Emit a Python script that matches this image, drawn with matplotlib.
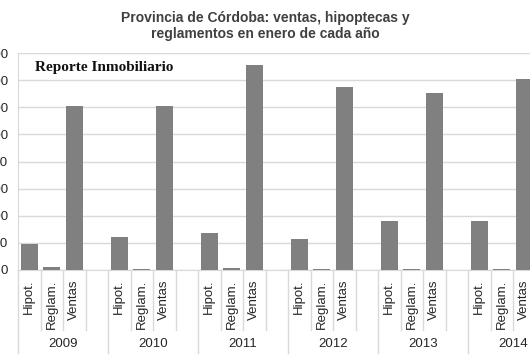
import matplotlib
matplotlib.use("Agg")
import matplotlib.pyplot as plt
import matplotlib.transforms as mtransforms

plt.rcParams["font.family"] = ["Liberation Sans", "DejaVu Sans"]

years = ["2009", "2010", "2011", "2012", "2013", "2014"]
categories = ["Hipot.", "Reglam.", "Ventas"]
hipot = [96, 123, 136, 115, 181, 181]
reglam = [12, 4, 9, 3, 3, 3]
ventas = [603, 603, 756, 675, 654, 704]
y_ticks = [0, 100, 200, 300, 400, 500, 600, 700, 800]

W, H = 530, 360
fig = plt.figure(figsize=(W / 100, H / 100), dpi=100)
# axes runs past the right edge, as in the cropped original
ax = fig.add_axes([18 / W, 90 / H, 540 / W, 217 / H])

slots = 4
xs, vals, labels = [], [], []
for g in range(len(years)):
    for c, series in enumerate([hipot, reglam, ventas]):
        xs.append(g * slots + c)
        vals.append(series[g])
        labels.append(categories[c])

ax.bar(xs, vals, width=0.76, color="#808080", zorder=3)

ax.set_xlim(-0.5, len(years) * slots - 0.5)
ax.set_ylim(0, 800)
ax.set_yticks(y_ticks)
ax.set_yticklabels([str(v) for v in y_ticks], fontsize=9.5, color="#262626")
ax.tick_params(axis="y", length=0, pad=7)
ax.yaxis.grid(True, color="#d9d9d9", linewidth=1)
ax.set_axisbelow(True)

ax.set_xticks(xs)
ax.set_xticklabels(labels, rotation=90, fontsize=9.5, color="#262626", va="top")
ax.tick_params(axis="x", length=0, pad=7)

for s in ["top", "right"]:
    ax.spines[s].set_visible(False)
for s in ["left", "bottom"]:
    ax.spines[s].set_color("#d9d9d9")

# hierarchical axis separators and year labels
trans = mtransforms.blended_transform_factory(ax.transData, fig.transFigure)
for g in range(len(years)):
    x0 = g * slots - 0.5
    ax.plot([x0, x0], [90 / H, 7 / H], transform=trans, color="#d9d9d9",
            lw=1, clip_on=False)
    for k in range(1, slots):
        xb = x0 + k
        ax.plot([xb, xb], [90 / H, 30 / H], transform=trans, color="#d9d9d9",
                lw=1, clip_on=False)
    ax.text(g * slots + 1.5, 16 / H, years[g], transform=trans, ha="center",
            va="center", fontsize=9.5, color="#262626")

fig.text(0.5, (H - 26) / H,
         "Provincia de Córdoba: ventas, hipoptecas y\nreglamentos en enero de cada año",
         ha="center", va="center", fontsize=10, fontweight="bold",
         color="#404040", linespacing=1.25)

fig.text(35 / W, (H - 67) / H, "Reporte Inmobiliario", ha="left", va="center",
         fontsize=11, fontweight="bold", family=["Liberation Serif", "DejaVu Serif"],
         color="#111111",
         bbox=dict(facecolor="white", edgecolor="none", pad=2))

fig.savefig("out.png", dpi=100)
